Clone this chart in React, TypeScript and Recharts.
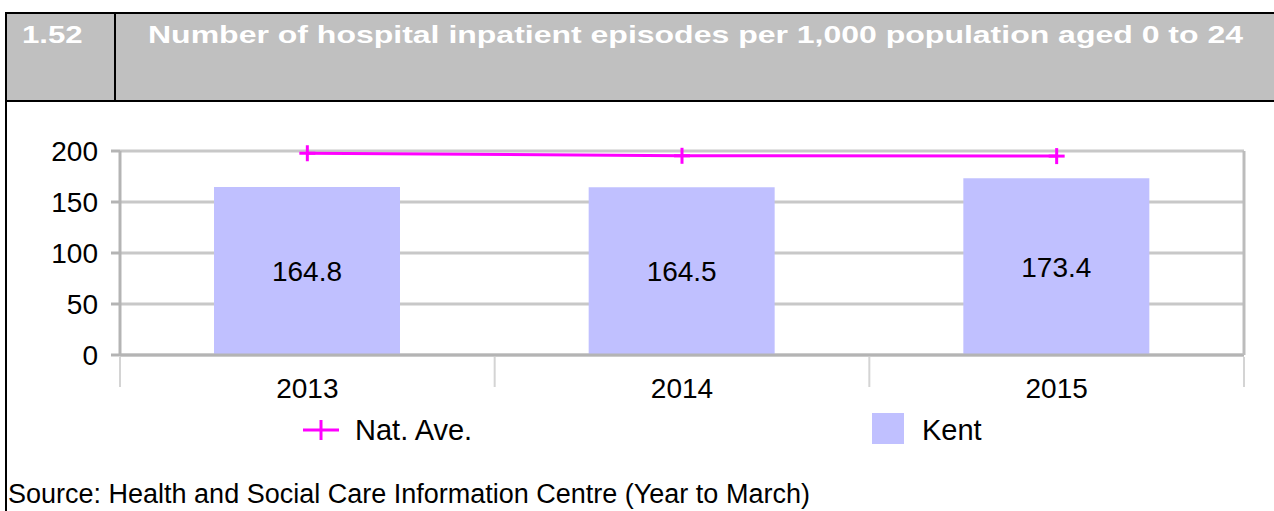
import React from 'react'
import {
  ComposedChart,
  Bar,
  Line,
  XAxis,
  YAxis,
  CartesianGrid,
  LabelList,
} from 'recharts'

const YEARS = ['2013', '2014', '2015']
const KENT = [164.8, 164.5, 173.4]
const NAT_AVE = [197.8, 195.3, 195.0]
const Y_TICKS = [0, 50, 100, 150, 200]

const FONT = '"Liberation Sans", Arial, sans-serif'
const W = 1274
const H = 511

// plot box
const PLOT_LEFT = 120
const PLOT_RIGHT = 1244
const PLOT_TOP = 151
const PLOT_BOTTOM = 355
const Y_AXIS_W = 100
const X_AXIS_H = 40
const BAND = (PLOT_RIGHT - PLOT_LEFT) / YEARS.length

const data = YEARS.map((year, i) => ({ year, kent: KENT[i], nat: NAT_AVE[i] }))

function PlusDot(props: any) {
  const { cx, cy } = props
  if (cx == null || cy == null) return null
  return (
    <g>
      <line x1={cx - 8} x2={cx + 8} y1={cy} y2={cy} stroke="#ff00ff" strokeWidth={3} />
      <line x1={cx} x2={cx} y1={cy - 8} y2={cy + 8} stroke="#ff00ff" strokeWidth={3} />
    </g>
  )
}

function YearTick(props: any) {
  const { x, y, payload, index } = props
  const left = x - BAND / 2
  const right = x + BAND / 2
  return (
    <g>
      <line x1={left} x2={left} y1={y + 2} y2={y + 32} stroke="#d4d4d4" strokeWidth={2} />
      {index === YEARS.length - 1 && (
        <line x1={right} x2={right} y1={y + 2} y2={y + 32} stroke="#d4d4d4" strokeWidth={2} />
      )}
      <text x={x} y={y + 43} textAnchor="middle" fontSize={28} fill="#000" fontFamily={FONT}>
        {payload.value}
      </text>
    </g>
  )
}

// legend sits under the x axis, outside the plot
function LegendBox() {
  return (
    <div style={{ position: 'absolute', left: 0, top: 405, width: W, height: 50, fontSize: 29, color: '#000' }}>
      <svg style={{ position: 'absolute', left: 302, top: 14 }} width={38} height={22}>
        <line x1={1} x2={37} y1={11} y2={11} stroke="#ff00ff" strokeWidth={3} />
        <line x1={19} x2={19} y1={1} y2={21} stroke="#ff00ff" strokeWidth={3} />
      </svg>
      <span style={{ position: 'absolute', left: 355, top: 8, lineHeight: '34px' }}>Nat. Ave.</span>
      <div style={{ position: 'absolute', left: 872, top: 8, width: 32, height: 31, background: '#c0c0ff' }} />
      <span style={{ position: 'absolute', left: 922, top: 8, lineHeight: '34px' }}>Kent</span>
    </div>
  )
}

export default function App() {
  return (
    <div style={{ position: 'absolute', left: 0, top: 0, width: W, height: H, background: '#fff', overflow: 'hidden', fontFamily: FONT }}>
      {/* header band */}
      <div
        style={{
          position: 'absolute',
          left: 5,
          top: 12,
          width: W,
          height: 86,
          background: '#c0c0c0',
          border: '2px solid #000',
        }}
      />
      <div style={{ position: 'absolute', left: 114, top: 12, width: 2, height: 90, background: '#000' }} />
      <div style={{ position: 'absolute', left: 5, top: 100, width: 2, height: H - 100, background: '#000' }} />
      <div
        style={{
          position: 'absolute',
          left: 22,
          top: 21,
          fontSize: 24,
          fontWeight: 'bold',
          color: '#fff',
          transform: 'scaleX(1.3)',
          transformOrigin: 'left top',
        }}
      >
        1.52
      </div>
      <div
        style={{
          position: 'absolute',
          left: 148,
          top: 21,
          fontSize: 24,
          fontWeight: 'bold',
          color: '#fff',
          whiteSpace: 'nowrap',
          transform: 'scaleX(1.333)',
          transformOrigin: 'left top',
        }}
      >
        Number of hospital inpatient episodes per 1,000 population aged 0 to 24
      </div>

      <div style={{ position: 'absolute', left: 0, top: 0 }}>
        <ComposedChart
          width={W}
          height={H}
          data={data}
          barCategoryGap={0}
          margin={{
            top: PLOT_TOP,
            left: PLOT_LEFT - Y_AXIS_W,
            right: W - PLOT_RIGHT - 1,
            bottom: H - PLOT_BOTTOM - X_AXIS_H,
          }}
        >
          <CartesianGrid vertical={false} stroke="#c8c8c8" strokeWidth={3} yAxisId="l" />
          <XAxis
            dataKey="year"
            height={X_AXIS_H}
            tickLine={false}
            tickSize={0}
            tickMargin={0}
            axisLine={{ stroke: '#b4b4b4', strokeWidth: 3 }}
            tick={<YearTick />}
            interval={0}
          />
          <YAxis
            yAxisId="l"
            width={Y_AXIS_W}
            domain={[0, 200]}
            ticks={Y_TICKS}
            tickSize={9}
            tickMargin={13}
            axisLine={{ stroke: '#b4b4b4', strokeWidth: 3 }}
            tickLine={{ stroke: '#b4b4b4', strokeWidth: 3 }}
            tick={{ fontSize: 28, fill: '#000', fontFamily: FONT }}
          />
          <YAxis
            yAxisId="r"
            orientation="right"
            width={1}
            domain={[0, 200]}
            tick={false}
            tickLine={false}
            axisLine={{ stroke: '#bcbcbc', strokeWidth: 3 }}
          />
          <Bar yAxisId="l" dataKey="kent" name="Kent" fill="#c0c0ff" barSize={186} isAnimationActive={false}>
            <LabelList dataKey="kent" position="center" fontSize={28} fill="#000" fontFamily={FONT} />
          </Bar>
          <Line
            yAxisId="l"
            dataKey="nat"
            name="Nat. Ave."
            stroke="#ff00ff"
            strokeWidth={3}
            dot={<PlusDot />}
            activeDot={false}
            isAnimationActive={false}
          />
        </ComposedChart>
      </div>

      <LegendBox />

      <div style={{ position: 'absolute', left: 8, top: 479, fontSize: 27, color: '#000', whiteSpace: 'nowrap' }}>
        Source: Health and Social Care Information Centre (Year to March)
      </div>
    </div>
  )
}
